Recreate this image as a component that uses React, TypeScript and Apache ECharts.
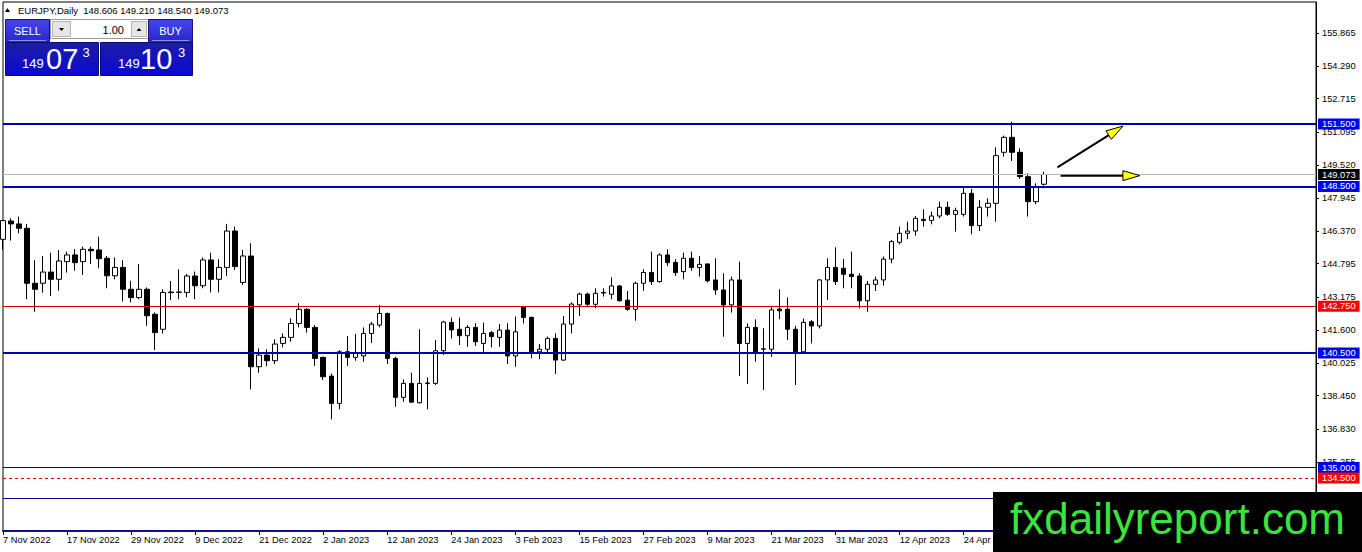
import React, { useEffect, useRef } from "react";
import * as echarts from "echarts";

// ---------- DATA ----------
const categories: string[] = [
  "7 Nov 2022","8 Nov 2022","9 Nov 2022","10 Nov 2022","11 Nov 2022","14 Nov 2022","15 Nov 2022","16 Nov 2022","17 Nov 2022","18 Nov 2022",
  "21 Nov 2022","22 Nov 2022","23 Nov 2022","24 Nov 2022","25 Nov 2022","28 Nov 2022","29 Nov 2022","30 Nov 2022",
  "1 Dec 2022","2 Dec 2022","5 Dec 2022","6 Dec 2022","7 Dec 2022","8 Dec 2022","9 Dec 2022","12 Dec 2022","13 Dec 2022","14 Dec 2022",
  "15 Dec 2022","16 Dec 2022","19 Dec 2022","20 Dec 2022","21 Dec 2022","22 Dec 2022","23 Dec 2022","26 Dec 2022","27 Dec 2022","28 Dec 2022",
  "29 Dec 2022","30 Dec 2022",
  "2 Jan 2023","3 Jan 2023","4 Jan 2023","5 Jan 2023","6 Jan 2023","9 Jan 2023","10 Jan 2023","11 Jan 2023","12 Jan 2023","13 Jan 2023",
  "16 Jan 2023","17 Jan 2023","18 Jan 2023","19 Jan 2023","20 Jan 2023","23 Jan 2023","24 Jan 2023","25 Jan 2023","26 Jan 2023","27 Jan 2023",
  "30 Jan 2023","31 Jan 2023",
  "1 Feb 2023","2 Feb 2023","3 Feb 2023","6 Feb 2023","7 Feb 2023","8 Feb 2023","9 Feb 2023","10 Feb 2023","13 Feb 2023","14 Feb 2023",
  "15 Feb 2023","16 Feb 2023","17 Feb 2023","20 Feb 2023","21 Feb 2023","22 Feb 2023","23 Feb 2023","24 Feb 2023","27 Feb 2023","28 Feb 2023",
  "1 Mar 2023","2 Mar 2023","3 Mar 2023","6 Mar 2023","7 Mar 2023","8 Mar 2023","9 Mar 2023","10 Mar 2023","13 Mar 2023","14 Mar 2023",
  "15 Mar 2023","16 Mar 2023","17 Mar 2023","20 Mar 2023","21 Mar 2023","22 Mar 2023","23 Mar 2023","24 Mar 2023","27 Mar 2023","28 Mar 2023",
  "29 Mar 2023","30 Mar 2023","31 Mar 2023",
  "3 Apr 2023","4 Apr 2023","5 Apr 2023","6 Apr 2023","7 Apr 2023","10 Apr 2023","11 Apr 2023","12 Apr 2023","13 Apr 2023","14 Apr 2023",
  "17 Apr 2023","18 Apr 2023","19 Apr 2023","20 Apr 2023","21 Apr 2023","24 Apr 2023","25 Apr 2023","26 Apr 2023","27 Apr 2023","28 Apr 2023",
  "1 May 2023","2 May 2023","3 May 2023","4 May 2023","5 May 2023","8 May 2023",
];
const emptySlots = 34; // chart shift area on the right
const lastLabelledIndex = 120; // later labels sit under the watermark

const opens = [
  145.96,146.84,146.70,146.49,143.85,143.85,144.39,144.04,144.89,145.21,
  144.89,145.48,145.45,145.05,144.21,144.61,143.56,143.16,143.56,142.36,
  141.64,143.43,143.41,143.41,144.20,143.73,144.97,144.04,144.61,146.36,
  143.89,145.16,139.84,140.40,140.13,140.96,141.25,141.92,142.60,141.73,
  140.29,139.39,138.08,140.56,140.29,140.36,141.44,141.84,142.40,140.24,
  138.37,139.04,138.11,139.03,139.04,140.61,141.97,141.64,141.33,141.73,
  140.96,141.48,141.25,141.60,140.36,142.73,142.21,140.56,140.68,141.20,
  140.16,141.89,142.81,143.33,142.84,143.41,143.32,143.72,143.04,142.60,
  143.85,144.37,143.93,145.21,144.85,144.41,145.05,144.61,144.78,144.01,
  143.53,142.81,144.01,140.96,141.73,140.68,140.68,142.61,142.60,141.64,
  140.56,142.00,141.80,144.01,144.61,144.57,144.28,144.20,143.01,143.80,
  144.01,145.01,145.82,146.25,146.36,146.92,146.87,147.08,147.50,147.16,
  147.16,148.17,146.62,147.50,147.69,150.14,150.86,150.14,148.97,147.77,
  148.606,
];
const closes = [
  146.86,146.70,146.49,143.85,143.56,144.39,144.04,144.92,145.21,144.84,
  145.48,145.41,145.03,144.21,144.61,143.56,143.16,143.56,142.29,141.48,
  143.41,143.40,143.43,144.20,143.73,144.97,144.04,144.61,146.36,144.65,
  145.16,139.84,140.40,140.13,140.93,141.25,141.92,142.60,141.73,140.24,
  139.36,138.08,140.56,140.29,140.48,141.44,141.89,142.40,140.24,138.37,
  139.04,138.14,139.04,139.06,140.61,141.99,141.61,141.33,141.73,141.04,
  141.44,141.29,141.60,140.36,141.52,142.21,140.56,140.68,141.20,140.16,
  141.89,142.85,143.33,142.84,143.37,143.38,143.72,143.01,142.60,143.85,
  144.37,143.93,145.21,144.84,144.36,145.05,144.61,144.76,143.97,143.53,
  142.81,144.01,140.96,141.73,140.56,140.70,142.57,142.53,141.64,140.56,
  141.97,141.80,144.01,144.61,143.93,144.28,144.17,143.01,143.80,144.01,
  145.01,145.85,146.25,146.36,146.97,146.87,147.08,147.50,147.16,147.34,
  148.17,146.62,147.50,147.69,149.98,150.86,150.14,148.97,147.77,148.49,
  149.073,
];
const lows = [
  145.45,145.90,146.25,143.09,142.48,143.40,143.24,143.49,144.36,144.45,
  144.25,144.78,144.57,143.61,144.04,142.97,142.93,143.08,141.81,140.64,
  141.44,143.04,143.08,143.17,143.09,143.61,143.41,143.41,144.20,144.49,
  143.77,138.75,139.55,139.87,139.97,140.77,141.04,141.73,141.48,139.88,
  139.20,137.31,137.79,139.88,140.13,140.08,140.98,141.73,139.97,137.92,
  138.16,138.10,138.08,137.79,138.96,140.40,141.20,140.88,140.80,140.84,
  140.56,140.77,140.80,139.97,139.84,141.92,140.24,140.20,140.48,139.49,
  140.13,141.44,142.28,142.76,142.65,143.21,143.08,142.97,142.53,142.05,
  143.49,143.77,143.88,144.68,144.20,144.04,144.45,144.17,143.88,143.29,
  141.28,142.44,139.40,139.01,140.08,138.72,140.32,142.12,141.12,138.96,
  140.48,140.96,141.68,143.05,143.77,143.61,143.61,142.64,142.48,143.48,
  143.73,144.81,145.72,145.97,146.14,146.57,146.68,146.97,147.08,146.33,
  147.05,146.20,146.36,147.05,146.81,149.93,149.72,148.86,147.05,147.64,
  148.540,
];
const highs = [
  146.90,146.97,147.05,146.70,144.97,145.16,145.32,145.45,145.37,145.49,
  145.61,145.61,146.09,145.16,145.09,144.97,143.97,144.77,143.65,142.45,
  143.56,143.96,144.52,144.30,144.41,145.09,145.32,145.00,146.70,146.57,
  145.45,145.77,140.72,140.68,141.16,141.44,142.16,142.89,142.65,141.84,
  140.32,139.52,140.64,141.31,141.41,141.73,142.00,142.81,142.44,140.32,
  139.23,139.55,141.64,139.33,141.12,142.05,142.20,142.20,141.84,141.93,
  141.96,141.56,141.89,141.93,142.25,142.76,142.25,140.93,141.29,141.44,
  142.28,142.93,143.40,143.40,143.61,143.61,144.13,143.77,143.48,143.93,
  144.52,145.37,145.29,145.48,145.00,145.32,145.37,145.16,144.78,145.05,
  144.33,144.17,144.89,141.92,142.12,141.69,142.73,143.56,143.17,141.80,
  142.16,142.08,144.05,145.05,145.58,145.02,145.37,144.33,143.96,144.17,
  145.13,145.93,146.57,146.81,147.08,147.40,147.29,147.77,147.77,147.48,
  148.49,148.38,147.85,147.93,150.38,150.94,151.60,150.33,149.13,148.65,
  149.210,
];

const yTickValues = [155.865,154.29,152.715,151.095,149.52,147.945,146.37,144.795,143.175,141.6,140.025,138.45,136.83,135.255];
const yMin = 131.95;
const yMax = 157.36;

// horizontal level lines drawn on the chart
const levelPrices = [151.5, 148.5, 142.75, 140.5, 135.0, 134.5, 133.5];
const levelKinds = ["major", "major", "red", "major", "thin", "redDashed", "thinHidden"];

const symbolName = "EURJPY,Daily";
const askPrice = 149.103;
const lotSize = "1.00";
const watermark = "fxdailyreport.com";

// arrows drawn on the chart: [barIndex, price] start -> tip
const arrowLines: [number, number][][] = [
  [[131.7, 149.42], [139.9, 151.4]],
  [[132.1, 149.02], [142.0, 149.02]],
];

// ---------- STYLES ----------
const FONT = '"Liberation Sans", Arial, sans-serif';
const kindStyle: Record<string, any> = {
  major: { color: "#0000b0", width: 2, type: "solid", tag: "#0000f0" },
  thin: { color: "#00008c", width: 1, type: "solid", tag: "#0000f0" },
  thinHidden: { color: "#00008c", width: 1, type: "solid", tag: null },
  red: { color: "#d00000", width: 1, type: "solid", tag: "#ff0000" },
  redDashed: { color: "#e00000", width: 1, type: [3, 3], tag: "#ff0000" },
};

function tagLabel(value: number, bg: string | null) {
  if (!bg) return { show: false };
  return {
    show: true,
    position: "end",
    distance: 2,
    formatter: value.toFixed(3),
    color: "#ffffff",
    backgroundColor: bg,
    padding: [1, 4, 0, 4],
    fontSize: 9.3,
    fontFamily: FONT,
    lineHeight: 10,
  };
}

function splitPrice(p: number) {
  const s = p.toFixed(3); // "149.073"
  const [a, b] = s.split(".");
  return { big: a, mid: b.slice(0, 2), sup: b.slice(2) };
}

function panelElements(): any[] {
  const btnGrad = new echarts.graphic.LinearGradient(0, 0, 0, 1, [
    { offset: 0, color: "#4646ea" },
    { offset: 1, color: "#2626cc" },
  ]);
  const boxGrad = new echarts.graphic.LinearGradient(0, 0, 0, 1, [
    { offset: 0, color: "#1c1ca8" },
    { offset: 1, color: "#0a0ad0" },
  ]);
  const bid = splitPrice(closes[closes.length - 1]);
  const ask = splitPrice(askPrice);
  const z = 20;
  const txt = (text: string, x: number, y: number, size: number, fill: string, align = "left") => ({
    type: "text",
    z,
    silent: true,
    style: { text, x, y, fill, fontSize: size, fontFamily: FONT, align, verticalAlign: "middle" },
  });
  return [
    // SELL button
    { type: "rect", z, shape: { x: 5.5, y: 19.5, width: 44, height: 23 }, style: { fill: btnGrad, stroke: "#16167a", lineWidth: 1 } },
    txt("SELL", 27.5, 30.5, 11, "#ffffff", "center"),
    { type: "line", z, shape: { x1: 9, y1: 40.5, x2: 46, y2: 40.5 }, style: { stroke: "#8a8aff", lineWidth: 1 } },
    // spinner
    { type: "rect", z, shape: { x: 50.5, y: 19.5, width: 98, height: 19 }, style: { fill: "#ffffff", stroke: "#9a9a9a", lineWidth: 1 } },
    { type: "rect", z, shape: { x: 52.5, y: 21.5, width: 18, height: 15 }, style: { fill: "#e6e6e6", stroke: "#b4b4b4", lineWidth: 1 } },
    { type: "polygon", z, shape: { points: [[59, 28], [64, 28], [61.5, 31]] }, style: { fill: "#000000" } },
    txt(lotSize, 124, 29.5, 11, "#000000", "right"),
    { type: "rect", z, shape: { x: 131.5, y: 21.5, width: 15, height: 15 }, style: { fill: "#e6e6e6", stroke: "#b4b4b4", lineWidth: 1 } },
    { type: "polygon", z, shape: { points: [[136.5, 31], [141.5, 31], [139, 28]] }, style: { fill: "#000000" } },
    // BUY button
    { type: "rect", z, shape: { x: 148.5, y: 19.5, width: 44, height: 23 }, style: { fill: btnGrad, stroke: "#16167a", lineWidth: 1 } },
    txt("BUY", 170.5, 30.5, 11, "#ffffff", "center"),
    { type: "line", z, shape: { x1: 152, y1: 40.5, x2: 189, y2: 40.5 }, style: { stroke: "#8a8aff", lineWidth: 1 } },
    // price boxes
    { type: "rect", z, shape: { x: 5.5, y: 42.5, width: 93, height: 33 }, style: { fill: boxGrad, stroke: "#0c0c70", lineWidth: 1 } },
    { type: "rect", z, shape: { x: 100.5, y: 42.5, width: 92, height: 33 }, style: { fill: boxGrad, stroke: "#0c0c70", lineWidth: 1 } },
    txt(bid.big, 22, 63.5, 13, "#ffffff"),
    txt(bid.mid, 46, 58.5, 29, "#ffffff"),
    txt(bid.sup, 82.5, 52, 13, "#ffffff"),
    txt(ask.big, 118, 63.5, 13, "#ffffff"),
    txt(ask.mid, 140, 58.5, 29, "#ffffff"),
    txt(ask.sup, 178, 52, 13, "#ffffff"),
  ];
}

function headerElements(): any[] {
  const n = closes.length - 1;
  const text = `${symbolName}  ${opens[n].toFixed(3)} ${highs[n].toFixed(3)} ${lows[n].toFixed(3)} ${closes[n].toFixed(3)}`;
  return [
    { type: "polygon", z: 20, shape: { points: [[5, 12], [10, 12], [7.5, 8]] }, style: { fill: "#000000" } },
    { type: "text", z: 20, style: { text, x: 18, y: 10, fill: "#000000", fontSize: 9.5, fontFamily: FONT, align: "left", verticalAlign: "middle" } },
  ];
}

function watermarkElements(): any[] {
  return [
    { type: "rect", z: 100, shape: { x: 993, y: 492, width: 369, height: 60 }, style: { fill: "#000000" } },
    { type: "text", z: 101, style: { text: watermark, x: 1010, y: 518, fill: "#3be43b", fontSize: 44, fontFamily: FONT, align: "left", verticalAlign: "middle" } },
  ];
}

function buildOption(): any {
  const cats = categories.concat(new Array(emptySlots).fill(""));
  const ohlc = opens.map((o, i) => [o, closes[i], lows[i], highs[i]]);
  const last = closes[closes.length - 1];
  const markData: any[] = levelPrices.map((p, i) => {
    const k = kindStyle[levelKinds[i]];
    return {
      yAxis: p,
      lineStyle: { color: k.color, width: k.width, type: k.type },
      label: tagLabel(p, k.tag),
    };
  });
  markData.unshift({
    yAxis: last,
    lineStyle: { color: "#b8b8b8", width: 1, type: "solid" },
    label: tagLabel(last, "#000000"),
  });
  return {
    animation: false,
    backgroundColor: "#ffffff",
    grid: {
      left: 3,
      right: 46,
      top: 2,
      bottom: 21,
      show: true,
      borderColor: "#000000",
      borderWidth: 1,
      containLabel: false,
      outerBoundsMode: "none",
    },
    xAxis: {
      type: "category",
      data: cats,
      boundaryGap: false,
      axisLine: { show: true, lineStyle: { color: "#10108a", width: 2 } },
      axisTick: { show: true, interval: 7, length: 4, lineStyle: { color: "#000000" } },
      axisLabel: {
        show: true,
        interval: (index: number) => index % 8 === 0 && index <= lastLabelledIndex,
        align: "left",
        margin: 4,
        color: "#000000",
        fontSize: 9.3,
        fontFamily: FONT,
      },
      splitLine: { show: false },
    },
    yAxis: {
      type: "value",
      position: "right",
      min: yMin,
      max: yMax,
      scale: true,
      axisLine: { show: true, lineStyle: { color: "#000000", width: 1 } },
      axisTick: { show: true, length: 3, customValues: yTickValues, lineStyle: { color: "#000000" } },
      axisLabel: {
        show: true,
        customValues: yTickValues,
        margin: 6,
        color: "#000000",
        fontSize: 9.3,
        fontFamily: FONT,
        formatter: (v: number) => v.toFixed(3),
      },
      splitLine: { show: false },
    },
    series: [
      {
        type: "candlestick",
        data: ohlc,
        barWidth: 5,
        clip: true,
        itemStyle: {
          color: "#ffffff",
          color0: "#000000",
          borderColor: "#000000",
          borderColor0: "#000000",
          borderColorDoji: "#000000",
          borderWidth: 1,
        },
        markLine: {
          silent: true,
          symbol: ["none", "none"],
          animation: false,
          data: markData,
        },
      },
    ],
    graphic: [...headerElements(), ...panelElements(), ...watermarkElements()],
  };
}

function arrowElements(chart: any): any[] {
  const toPx = (pt: [number, number]) => {
    const i0 = Math.floor(pt[0]);
    const f = pt[0] - i0;
    const a = chart.convertToPixel({ gridIndex: 0 }, [i0, pt[1]]);
    const b = chart.convertToPixel({ gridIndex: 0 }, [i0 + 1, pt[1]]);
    return [a[0] + (b[0] - a[0]) * f, a[1]];
  };
  const els: any[] = [];
  arrowLines.forEach((seg) => {
    const p0 = toPx(seg[0]);
    const p1 = toPx(seg[1]);
    const dx = p1[0] - p0[0];
    const dy = p1[1] - p0[1];
    const len = Math.hypot(dx, dy) || 1;
    const ux = dx / len;
    const uy = dy / len;
    const L = 17;
    const W = 10;
    const bx = p1[0] - ux * L;
    const by = p1[1] - uy * L;
    const nx = -uy;
    const ny = ux;
    els.push({
      type: "line",
      z: 30,
      shape: { x1: p0[0], y1: p0[1], x2: bx + ux * 2, y2: by + uy * 2 },
      style: { stroke: "#000000", lineWidth: 2 },
    });
    els.push({
      type: "polygon",
      z: 31,
      shape: {
        points: [
          [p1[0], p1[1]],
          [bx + (nx * W) / 2, by + (ny * W) / 2],
          [bx - (nx * W) / 2, by - (ny * W) / 2],
        ],
      },
      style: { fill: "#ffff00", stroke: "#000000", lineWidth: 1 },
    });
  });
  return els;
}

export default function App() {
  const ref = useRef<HTMLDivElement>(null);
  useEffect(() => {
    document.body.style.margin = "0";
    const el = ref.current;
    if (!el) return;
    const chart = echarts.init(el, null, { renderer: "svg" });
    const option = buildOption();
    chart.setOption(option);
    try {
      const arrows = arrowElements(chart);
      option.graphic = [...option.graphic, ...arrows];
      chart.setOption(option, { notMerge: true });
    } catch (e) {
      // ignore
    }
    return () => {
      chart.dispose();
    };
  }, []);
  return (
    <div
      ref={ref}
      style={{ position: "fixed", left: 0, top: 0, width: 1362, height: 552, background: "#ffffff" }}
    />
  );
}
